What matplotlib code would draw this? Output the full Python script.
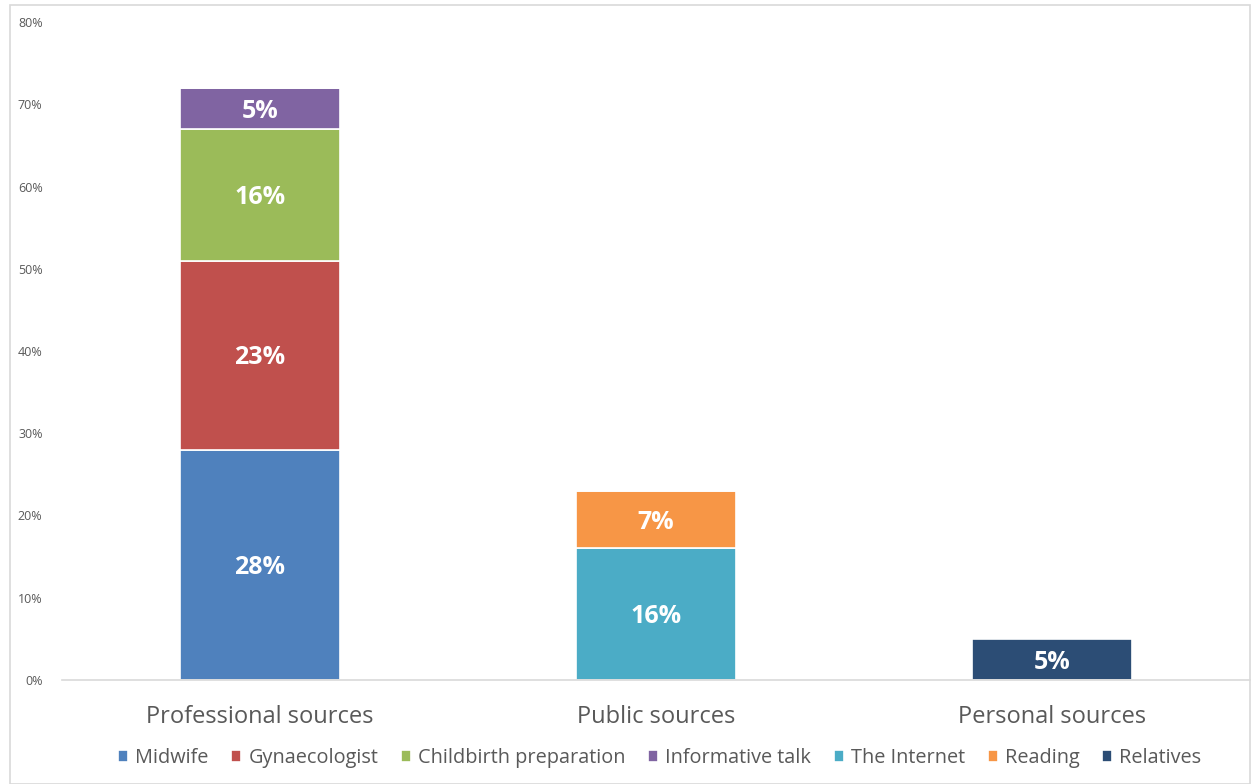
import matplotlib.pyplot as plt
from matplotlib.patches import Rectangle
from matplotlib.ticker import PercentFormatter

plt.rcParams['font.family'] = ['Open Sans', 'DejaVu Sans']

groups = ['Professional sources', 'Public sources', 'Personal sources']
series = ['Midwife', 'Gynaecologist', 'Childbirth preparation', 'Informative talk',
          'The Internet', 'Reading', 'Relatives']
# share per group (percent) for each source
midwife = [28, 0, 0]
gynaecologist = [23, 0, 0]
childbirth = [16, 0, 0]
informative = [5, 0, 0]
internet = [0, 16, 0]
reading = [0, 7, 0]
relatives = [0, 0, 5]
colors = ['#4F81BD', '#C0504D', '#9BBB59', '#8064A2', '#4BACC6', '#F79646', '#2C4D75']

values = [midwife, gynaecologist, childbirth, informative, internet, reading, relatives]

fig = plt.figure(figsize=(12.52, 7.84), dpi=100)
ax = fig.add_axes([62 / 1252, 1 - 680 / 784, 1188 / 1252, 658 / 784])

x = range(len(groups))
bottom = [0, 0, 0]
handles = []
for name, vals, col in zip(series, values, colors):
    bars = ax.bar(x, vals, 0.404, bottom=bottom, color=col, edgecolor='white',
                  linewidth=1.2, label=name)
    handles.append(bars)
    for i, v in enumerate(vals):
        if v > 0:
            ax.annotate(f'{v}%', (i, bottom[i] + v / 2), xytext=(0, -2),
                        textcoords='offset points', ha='center', va='center',
                        color='white', fontsize=18, fontweight='bold')
    bottom = [b + v for b, v in zip(bottom, vals)]

ax.set_xlim(-0.5, 2.5)
ax.set_ylim(0, 80)
ax.set_yticks(range(0, 81, 10))
ax.yaxis.set_major_formatter(PercentFormatter(decimals=0))
ax.set_xticks(list(x))
ax.set_xticklabels(groups, fontsize=17, color='#595959')
ax.tick_params(axis='y', labelsize=9, colors='#595959', length=0, pad=14)
ax.tick_params(axis='x', length=0, pad=18)
for side in ['top', 'right', 'left']:
    ax.spines[side].set_visible(False)
ax.spines['bottom'].set_color('#D9D9D9')
ax.spines['bottom'].set_linewidth(1.2)

fig.legend(handles=handles, labels=series, loc='center', bbox_to_anchor=(0.527, 1 - 758 / 784),
           ncol=7, frameon=False, fontsize=14.3, handlelength=0.5, handleheight=0.5,
           handletextpad=0.35, columnspacing=1.15, labelcolor='#595959')

# light frame round the chart area
fig.add_artist(Rectangle((10 / 1252, 0), 1240 / 1252, 1 - 5 / 784, transform=fig.transFigure,
                         fill=False, edgecolor='#D9D9D9', linewidth=1.2))

fig.savefig('out.png', dpi=100)
